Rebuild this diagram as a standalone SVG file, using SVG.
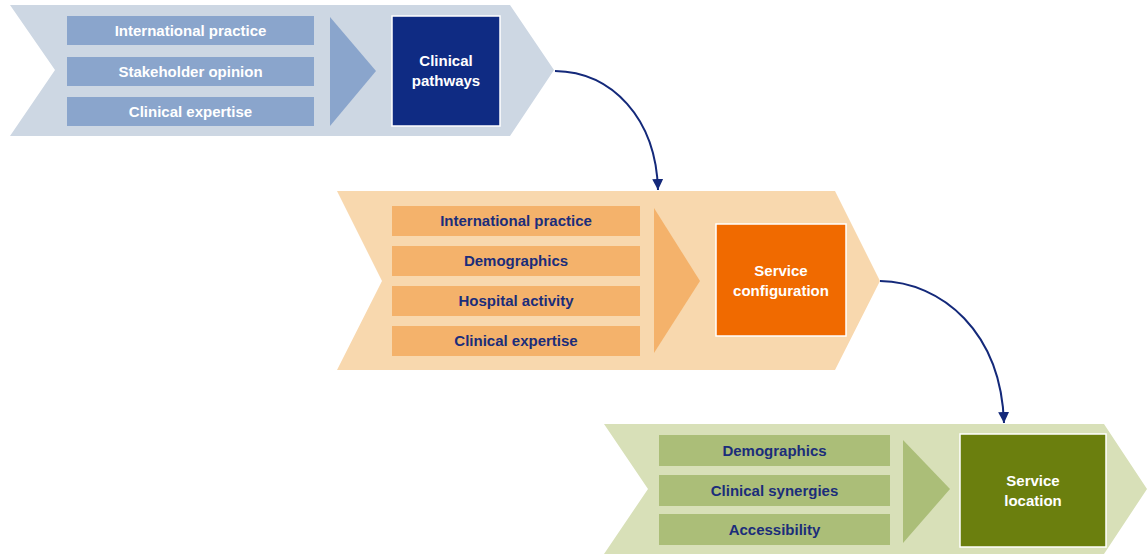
<svg xmlns="http://www.w3.org/2000/svg" width="1147" height="554" viewBox="0 0 1147 554">
<defs>
<marker id="ah" viewBox="0 0 10 10" refX="10" refY="5" markerWidth="11" markerHeight="11" markerUnits="userSpaceOnUse" orient="auto">
<path d="M0,0 L10,5 L0,10 Z" fill="#14297a"/>
</marker>
</defs>
<style>
text{font-family:"Liberation Sans",Arial,sans-serif;font-weight:bold;font-size:15px;text-anchor:middle;dominant-baseline:central}
.tw{fill:#ffffff}
.tn{fill:#1b2d7a}
.conn{fill:none;stroke:#14297a;stroke-width:2}
.key{stroke:#ffffff;stroke-width:1.5}
</style>
<g id="stage1">
<polygon points="10,5 510,5 554,70 510,136 10,136 55,70" fill="#cdd7e3"/>
<rect x="67" y="16" width="247" height="29" fill="#8aa5cc"/>
<rect x="67" y="57" width="247" height="29" fill="#8aa5cc"/>
<rect x="67" y="97" width="247" height="29" fill="#8aa5cc"/>
<polygon points="330,17 376,71 330,126" fill="#8aa5cc"/>
<text class="tw" x="190.5" y="30">International practice</text>
<text class="tw" x="190.5" y="71">Stakeholder opinion</text>
<text class="tw" x="190.5" y="111">Clinical expertise</text>
<rect class="key" x="392" y="16" width="108" height="110" fill="#0f2b83"/>
<text class="tw" x="446" y="60">Clinical</text>
<text class="tw" x="446" y="80">pathways</text>
</g>
<g id="stage2">
<polygon points="337,191 835,191 880,281 835,370 337,370 382,281" fill="#f8d8ae"/>
<rect x="392" y="206" width="248" height="30" fill="#f4b26b"/>
<rect x="392" y="246" width="248" height="30" fill="#f4b26b"/>
<rect x="392" y="286" width="248" height="30" fill="#f4b26b"/>
<rect x="392" y="326" width="248" height="30" fill="#f4b26b"/>
<polygon points="654,208 700,281 654,353" fill="#f4b26b"/>
<text class="tn" x="516" y="220">International practice</text>
<text class="tn" x="516" y="260">Demographics</text>
<text class="tn" x="516" y="300">Hospital activity</text>
<text class="tn" x="516" y="340">Clinical expertise</text>
<rect class="key" x="716" y="224" width="130" height="112" fill="#f06a00"/>
<text class="tw" x="781" y="270">Service</text>
<text class="tw" x="781" y="290">configuration</text>
</g>
<g id="stage3">
<polygon points="604,424 1104,424 1147,489 1104,554 604,554 648,489" fill="#d8e0b8"/>
<rect x="659" y="435" width="231" height="31" fill="#abbe78"/>
<rect x="659" y="475" width="231" height="31" fill="#abbe78"/>
<rect x="659" y="514" width="231" height="31" fill="#abbe78"/>
<polygon points="903,440 950,489 903,543" fill="#abbe78"/>
<text class="tn" x="774.5" y="450">Demographics</text>
<text class="tn" x="774.5" y="490">Clinical synergies</text>
<text class="tn" x="774.5" y="529">Accessibility</text>
<rect class="key" x="960" y="434" width="146" height="113" fill="#6b7f0e"/>
<text class="tw" x="1033" y="480">Service</text>
<text class="tw" x="1033" y="500">location</text>
</g>
<g id="connectors">
<path class="conn" d="M555,71 C612,72 656,118 658,190" marker-end="url(#ah)"/>
<path class="conn" d="M880,281 C942,282 1001,332 1004,423" marker-end="url(#ah)"/>
</g>
</svg>
